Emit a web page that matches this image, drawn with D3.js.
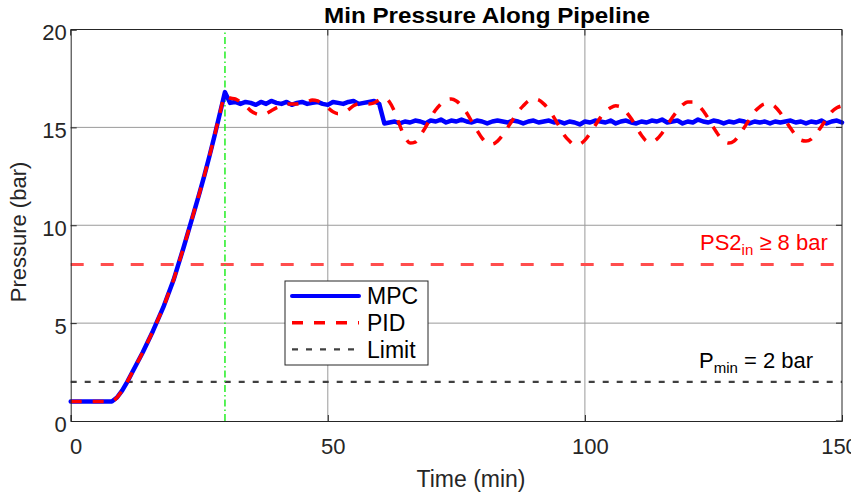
<!DOCTYPE html>
<html>
<head>
<meta charset="UTF-8">
<title>Min Pressure Along Pipeline</title>
<script src="https://cdn.jsdelivr.net/npm/d3@7"></script>
<style>
  body { margin: 0; background: #fff; }
  svg text { font-family: "Liberation Sans", Arial, Helvetica, sans-serif; fill: #262626; }
</style>
</head>
<body>
<div id="chart"></div>
<script>
// ---- values (bar), one sample per minute ----
var minutes = d3.range(0, 151);

// shared start-up ramp, t = 0..29
var rampUp = [
  1.0, 1.0, 1.0, 1.0, 1.0, 1.0, 1.0, 1.0, 1.0, 1.2,
  1.55, 2.0, 2.5, 3.0, 3.5, 4.05, 4.6, 5.2, 5.8, 6.5,
  7.2, 8.05, 8.9, 9.8, 10.7, 11.6, 12.55, 13.55, 14.6, 15.7
];

// MPC, t = 30..150
var mpcTail = [
  16.8, 16.25, 16.3, 16.2, 16.3, 16.25, 16.15, 16.3, 16.2, 16.35,
  16.25, 16.2, 16.3, 16.15, 16.25, 16.3, 16.2, 16.25, 16.3, 16.2,
  16.15, 16.3, 16.25, 16.2, 16.3, 16.35, 16.2, 16.25, 16.3, 16.35,
  16.2, 15.2, 15.25, 15.3, 15.2, 15.3, 15.25, 15.35, 15.3, 15.2,
  15.35, 15.3, 15.4, 15.25, 15.35, 15.3, 15.4, 15.3, 15.25, 15.35,
  15.3, 15.2, 15.3, 15.35, 15.3, 15.25, 15.35, 15.3, 15.2, 15.3,
  15.35, 15.25, 15.3, 15.35, 15.25, 15.3, 15.2, 15.3, 15.25, 15.15,
  15.3, 15.25, 15.35, 15.3, 15.25, 15.35, 15.2, 15.3, 15.35, 15.25,
  15.2, 15.3, 15.25, 15.35, 15.3, 15.4, 15.25, 15.3, 15.35, 15.2,
  15.3, 15.25, 15.4, 15.3, 15.25, 15.35, 15.3, 15.2, 15.3, 15.25,
  15.35, 15.3, 15.2, 15.3, 15.25, 15.3, 15.2, 15.3, 15.25, 15.3,
  15.35, 15.25, 15.3, 15.2, 15.3, 15.25, 15.35, 15.2, 15.3, 15.35,
  15.25
];

// PID, t = 30..150
var pidTail = [
  16.6, 16.5, 16.45, 16.3, 16.1, 15.85, 15.7, 15.65, 15.7, 15.85,
  16.0, 16.1, 16.2, 16.2, 16.2, 16.25, 16.3, 16.4, 16.35, 16.2,
  16.0, 15.8, 15.7, 15.75, 15.9, 16.1, 16.2, 16.2, 16.2, 16.25,
  16.4, 16.5, 16.3, 15.8, 15.1, 14.5, 14.2, 14.25, 14.6, 15.0,
  15.5, 15.9, 16.2, 16.4, 16.45, 16.35, 16.1, 15.75, 15.3, 14.85,
  14.45, 14.2, 14.15, 14.3, 14.6, 15.0, 15.4, 15.8, 16.1, 16.35,
  16.45, 16.4, 16.2, 15.9, 15.5, 15.05, 14.6, 14.3, 14.1, 14.15,
  14.35, 14.7, 15.1, 15.5, 15.8, 16.0, 16.1, 16.05, 15.8, 15.45,
  15.0, 14.6, 14.3, 14.25, 14.4, 14.7, 15.1, 15.5, 15.85, 16.15,
  16.3, 16.3, 16.15, 15.85, 15.45, 15.0, 14.6, 14.3, 14.2, 14.3,
  14.6, 15.0, 15.4, 15.8, 16.05, 16.2, 16.2, 16.05, 15.75, 15.35,
  14.95, 14.6, 14.35, 14.3, 14.4, 14.7, 15.05, 15.45, 15.8, 16.0,
  16.1
];

var mpc = rampUp.concat(mpcTail);
var pid = rampUp.concat(pidTail);

var xTicks = [0, 50, 100, 150];
var yTicks = [0, 5, 10, 15, 20];
var limitBar = 2;      // P_min
var ps2Bar = 8;        // PS2_in requirement
var switchMin = 30;    // vertical marker

// ---- layout ----
var W = 851, H = 494;
var svg = d3.select("#chart").append("svg")
    .attr("width", W).attr("height", H);

var x = d3.scaleLinear().domain([0, 150]).range([70.7, 842]);
var y = d3.scaleLinear().domain([0, 20]).range([421, 29.5]);

// grid
svg.append("g").selectAll("line").data(xTicks.slice(1, -1)).enter()
    .append("line")
    .attr("x1", d => x(d)).attr("x2", d => x(d))
    .attr("y1", y(0)).attr("y2", y(20))
    .attr("stroke", "#9a9a9a").attr("stroke-width", 1);
svg.append("g").selectAll("line").data(yTicks.slice(1, -1)).enter()
    .append("line")
    .attr("y1", d => y(d)).attr("y2", d => y(d))
    .attr("x1", x(0)).attr("x2", x(150))
    .attr("stroke", "#9a9a9a").attr("stroke-width", 1);

// reference lines
svg.append("line")
    .attr("x1", x(0)).attr("x2", x(150))
    .attr("y1", y(ps2Bar)).attr("y2", y(ps2Bar))
    .attr("stroke", "#ff4d4d").attr("stroke-width", 3)
    .attr("stroke-dasharray", "13,17");
svg.append("line")
    .attr("x1", x(0)).attr("x2", x(150))
    .attr("y1", y(limitBar)).attr("y2", y(limitBar))
    .attr("stroke", "#404040").attr("stroke-width", 2.2)
    .attr("stroke-dasharray", "6,8");
svg.append("line")
    .attr("x1", x(switchMin)).attr("x2", x(switchMin))
    .attr("y1", y(0)).attr("y2", y(20))
    .attr("stroke", "#22ee22").attr("stroke-width", 1.5)
    .attr("stroke-dasharray", "7,3,1.5,3");

// series
var lineMpc = d3.line()
    .x((d, i) => x(minutes[i]))
    .y(d => y(d));
var linePid = d3.line()
    .x((d, i) => x(minutes[i]))
    .y(d => y(d))
    .curve(d3.curveMonotoneX);

svg.append("path").datum(mpc)
    .attr("d", lineMpc)
    .attr("fill", "none")
    .attr("stroke", "#0000ff").attr("stroke-width", 4.5)
    .attr("stroke-linejoin", "round").attr("stroke-linecap", "round");
svg.append("path").datum(pid)
    .attr("d", linePid)
    .attr("fill", "none")
    .attr("stroke", "#ff0000").attr("stroke-width", 3.5)
    .attr("stroke-dasharray", "11,11");

// axes
var xAxis = d3.axisBottom(x).tickValues(xTicks).tickSize(-6).tickPadding(17);
var yAxis = d3.axisLeft(y).tickValues(yTicks).tickSize(-6).tickPadding(4);

var gx = svg.append("g").attr("transform", "translate(0," + y(0) + ")").call(xAxis);
var gy = svg.append("g").attr("transform", "translate(" + x(0) + ",0)").call(yAxis);
[gx, gy].forEach(function (g) {
    g.select(".domain").attr("stroke", "#262626");
    g.selectAll(".tick line").attr("stroke", "#262626");
    g.selectAll(".tick text")
        .attr("font-size", 22)
        .attr("font-family", "Liberation Sans, Arial, sans-serif")
        .attr("fill", "#262626");
});
gx.selectAll(".tick text").attr("dx", d => d === 150 ? -3 : 5);
gy.selectAll(".tick text").attr("dy", "0.32em").attr("y", 3);

// box top + right
svg.append("line")
    .attr("x1", x(0)).attr("x2", x(150)).attr("y1", y(20)).attr("y2", y(20))
    .attr("stroke", "#262626");
svg.append("line")
    .attr("x1", x(150)).attr("x2", x(150)).attr("y1", y(20)).attr("y2", y(0))
    .attr("stroke", "#262626");
// right/top ticks
svg.append("g").selectAll("line").data(yTicks).enter().append("line")
    .attr("x1", x(150)).attr("x2", x(150) - 6)
    .attr("y1", d => y(d)).attr("y2", d => y(d))
    .attr("stroke", "#262626");
svg.append("g").selectAll("line").data(xTicks).enter().append("line")
    .attr("x1", d => x(d)).attr("x2", d => x(d))
    .attr("y1", y(20)).attr("y2", y(20) + 6)
    .attr("stroke", "#262626");

// title and labels
svg.append("text")
    .attr("x", 487).attr("y", 23)
    .attr("text-anchor", "middle")
    .attr("font-size", 22).attr("font-weight", "bold")
    .attr("textLength", 326).attr("lengthAdjust", "spacingAndGlyphs")
    .style("fill", "#000")
    .text("Min Pressure Along Pipeline");
svg.append("text")
    .attr("x", 471).attr("y", 487)
    .attr("text-anchor", "middle")
    .attr("font-size", 23)
    .text("Time (min)");
svg.append("text")
    .attr("transform", "translate(26,232) rotate(-90)")
    .attr("text-anchor", "middle")
    .attr("font-size", 22)
    .text("Pressure (bar)");

// annotations
var ann1 = svg.append("text")
    .attr("x", 700).attr("y", 250)
    .attr("font-size", 22)
    .style("fill", "#ff0000");
ann1.append("tspan").text("PS2");
ann1.append("tspan").attr("font-size", 15).attr("dy", 5).text("in");
ann1.append("tspan").attr("dy", -5).text(" \u2265 8 bar");

var ann2 = svg.append("text")
    .attr("x", 699).attr("y", 368)
    .attr("font-size", 22)
    .style("fill", "#000");
ann2.append("tspan").text("P");
ann2.append("tspan").attr("font-size", 15).attr("dy", 5).text("min");
ann2.append("tspan").attr("dy", -5).text(" = 2 bar");

// legend
var legendItems = [
  { label: "MPC", color: "#0000ff", width: 4, dash: null },
  { label: "PID", color: "#ff0000", width: 3.5, dash: "11,11" },
  { label: "Limit", color: "#404040", width: 2.2, dash: "6,8" }
];
var lg = svg.append("g").attr("transform", "translate(285,281)");
lg.append("rect")
    .attr("width", 143).attr("height", 84)
    .attr("fill", "#fff").attr("stroke", "#262626").attr("stroke-width", 1);
var rows = lg.selectAll("g.row").data(legendItems).enter()
    .append("g").attr("class", "row")
    .attr("transform", (d, i) => "translate(0," + (15 + i * 26.7) + ")");
rows.append("line")
    .attr("x1", 7).attr("x2", 74)
    .attr("stroke", d => d.color).attr("stroke-width", d => d.width)
    .attr("stroke-dasharray", d => d.dash)
    .attr("stroke-linecap", (d, i) => i === 0 ? "round" : "butt");
rows.append("text")
    .attr("x", 82).attr("dy", "0.36em")
    .attr("font-size", 23)
    .style("fill", "#000")
    .text(d => d.label);
</script>
</body>
</html>
